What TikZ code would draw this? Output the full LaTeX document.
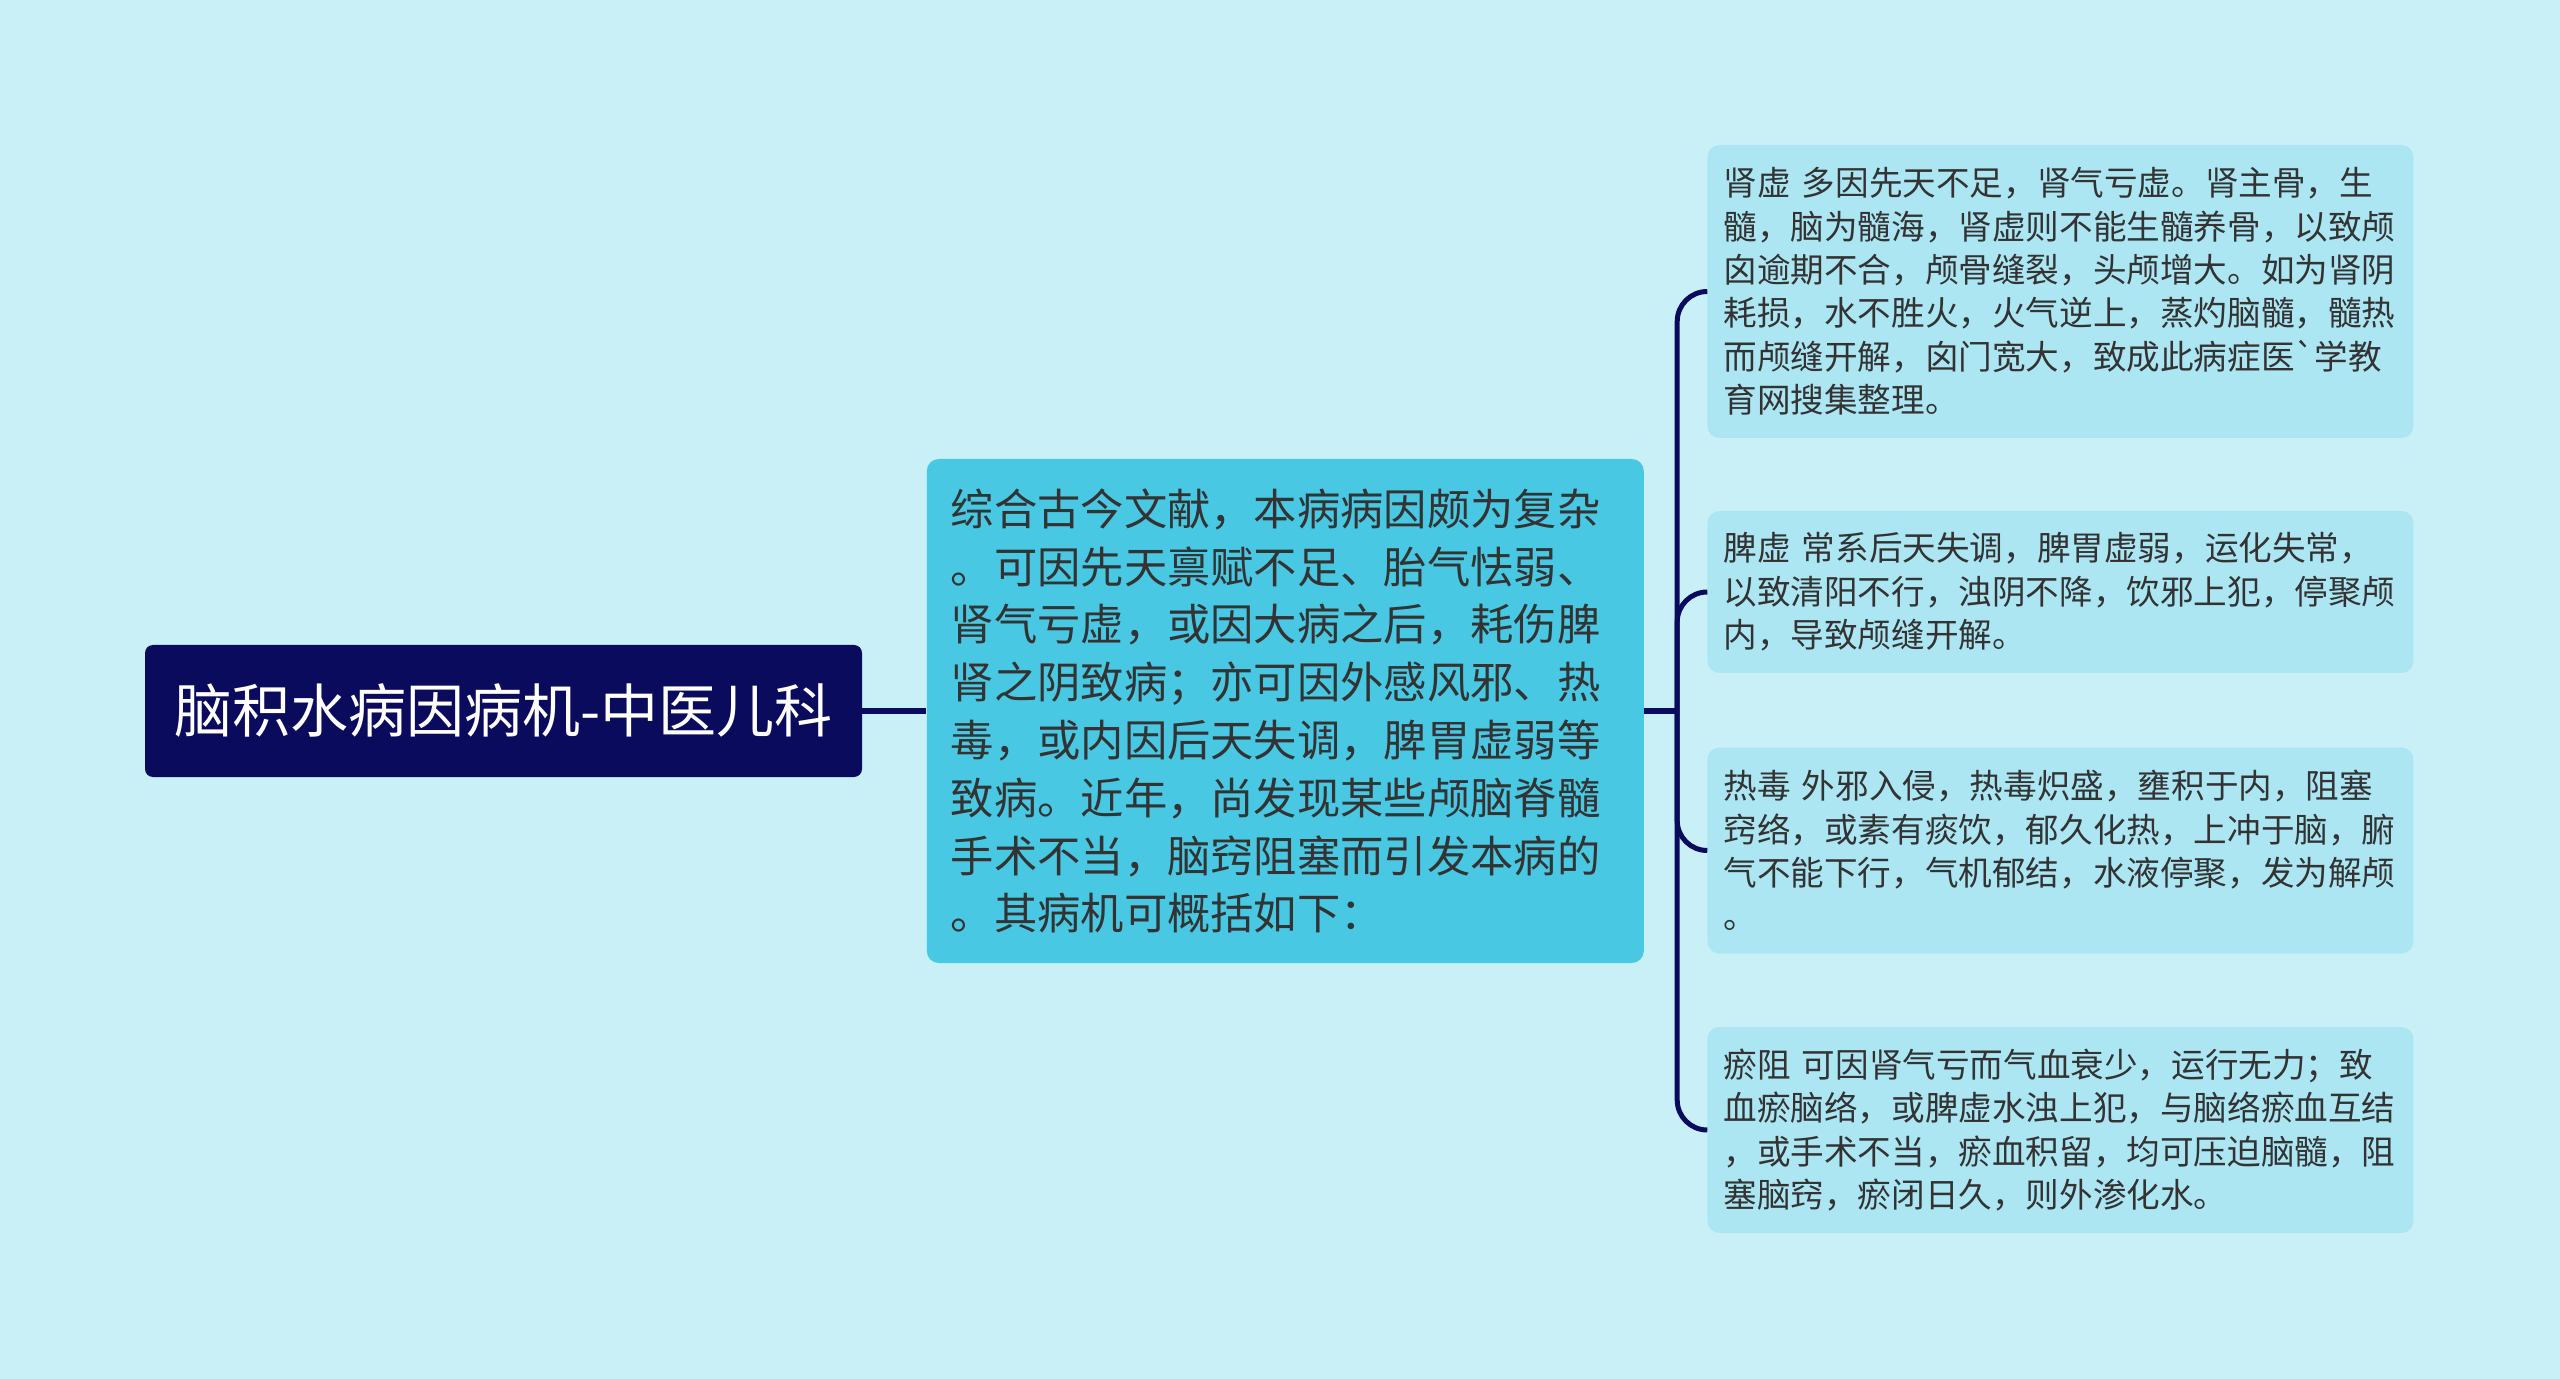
\documentclass[tikz,border=0pt]{standalone}
\usepackage{fontspec}
\setmainfont{Noto Sans CJK SC}
\usetikzlibrary{positioning}
\definecolor{bgcyan}{HTML}{C9EFF7}
\definecolor{rootblue}{HTML}{0B0B5E}
\definecolor{midcyan}{HTML}{48C8E3}
\definecolor{leafcyan}{HTML}{ACE6F3}
\definecolor{ink}{HTML}{333333}
\tikzstyle{topic}=[fill=rootblue,rounded corners=4pt,text=white,minimum width=358.5pt,minimum height=66pt,font=\fontsize{29pt}{36pt}\selectfont]
\tikzstyle{cause}=[fill=midcyan,rounded corners=6pt,text=ink,text width=334.5pt,inner xsep=12pt,minimum height=252pt,align=left,font=\fontsize{21.65pt}{28.9pt}\selectfont]
\tikzstyle{leaf}=[fill=leafcyan,rounded corners=6pt,text=ink,text width=337pt,inner xsep=8pt,align=left,anchor=west,font=\fontsize{16.8pt}{21.7pt}\selectfont]
\tikzstyle{link}=[draw=rootblue,line width=2.5pt]

\begin{document}
\begin{tikzpicture}[
      x=0.5pt,y=-0.5pt
    ]
      \fill[bgcyan] (0,0) rectangle (2560,1379);
      \useasboundingbox (0,0) rectangle (2560,1379);

      \node [topic] (root) at (503.5,711) {脑积水病因病机-中医儿科};
      \node [cause] (cause) [right=32pt of root] {综合古今文献，本病病因颇为复杂\\。可因先天禀赋不足、胎气怯弱、\\肾气亏虚，或因大病之后，耗伤脾\\肾之阴致病；亦可因外感风邪、热\\毒，或内因后天失调，脾胃虚弱等\\致病。近年，尚发现某些颅脑脊髓\\手术不当，脑窍阻塞而引发本病的\\。其病机可概括如下：};
      \coordinate (fork) at ([xshift=16.5pt]cause.east);

      \node [leaf,minimum height=146.5pt] (shenxu) at (1707,291.5) {肾虚 多因先天不足，肾气亏虚。肾主骨，生\\髓，脑为髓海，肾虚则不能生髓养骨，以致颅\\囟逾期不合，颅骨缝裂，头颅增大。如为肾阴\\耗损，水不胜火，火气逆上，蒸灼脑髓，髓热\\而颅缝开解，囟门宽大，致成此病症医\textasciigrave 学教\\育网搜集整理。};
      \node [leaf,minimum height=81pt] (pixu) at (1707,592) {脾虚 常系后天失调，脾胃虚弱，运化失常，\\以致清阳不行，浊阴不降，饮邪上犯，停聚颅\\内，导致颅缝开解。};
      \node [leaf,minimum height=103pt] (redu) at (1707,850.5) {热毒 外邪入侵，热毒炽盛，壅积于内，阻塞\\窍络，或素有痰饮，郁久化热，上冲于脑，腑\\气不能下行，气机郁结，水液停聚，发为解颅\\。};
      \node [leaf,minimum height=103pt] (yuzu) at (1707,1130) {瘀阻 可因肾气亏而气血衰少，运行无力；致\\血瘀脑络，或脾虚水浊上犯，与脑络瘀血互结\\，或手术不当，瘀血积留，均可压迫脑髓，阻\\塞脑窍，瘀闭日久，则外渗化水。};

      \draw[link] (root) -- (cause);
      \draw[link] (cause) -- (fork);
      \draw[link,rounded corners=15pt] (fork) |- (shenxu.west);
      \draw[link,rounded corners=15pt] (fork) |- (pixu.west);
      \draw[link,rounded corners=15pt] (fork) |- (redu.west);
      \draw[link,rounded corners=15pt] (fork) |- (yuzu.west);
    \end{tikzpicture}
\end{document}
